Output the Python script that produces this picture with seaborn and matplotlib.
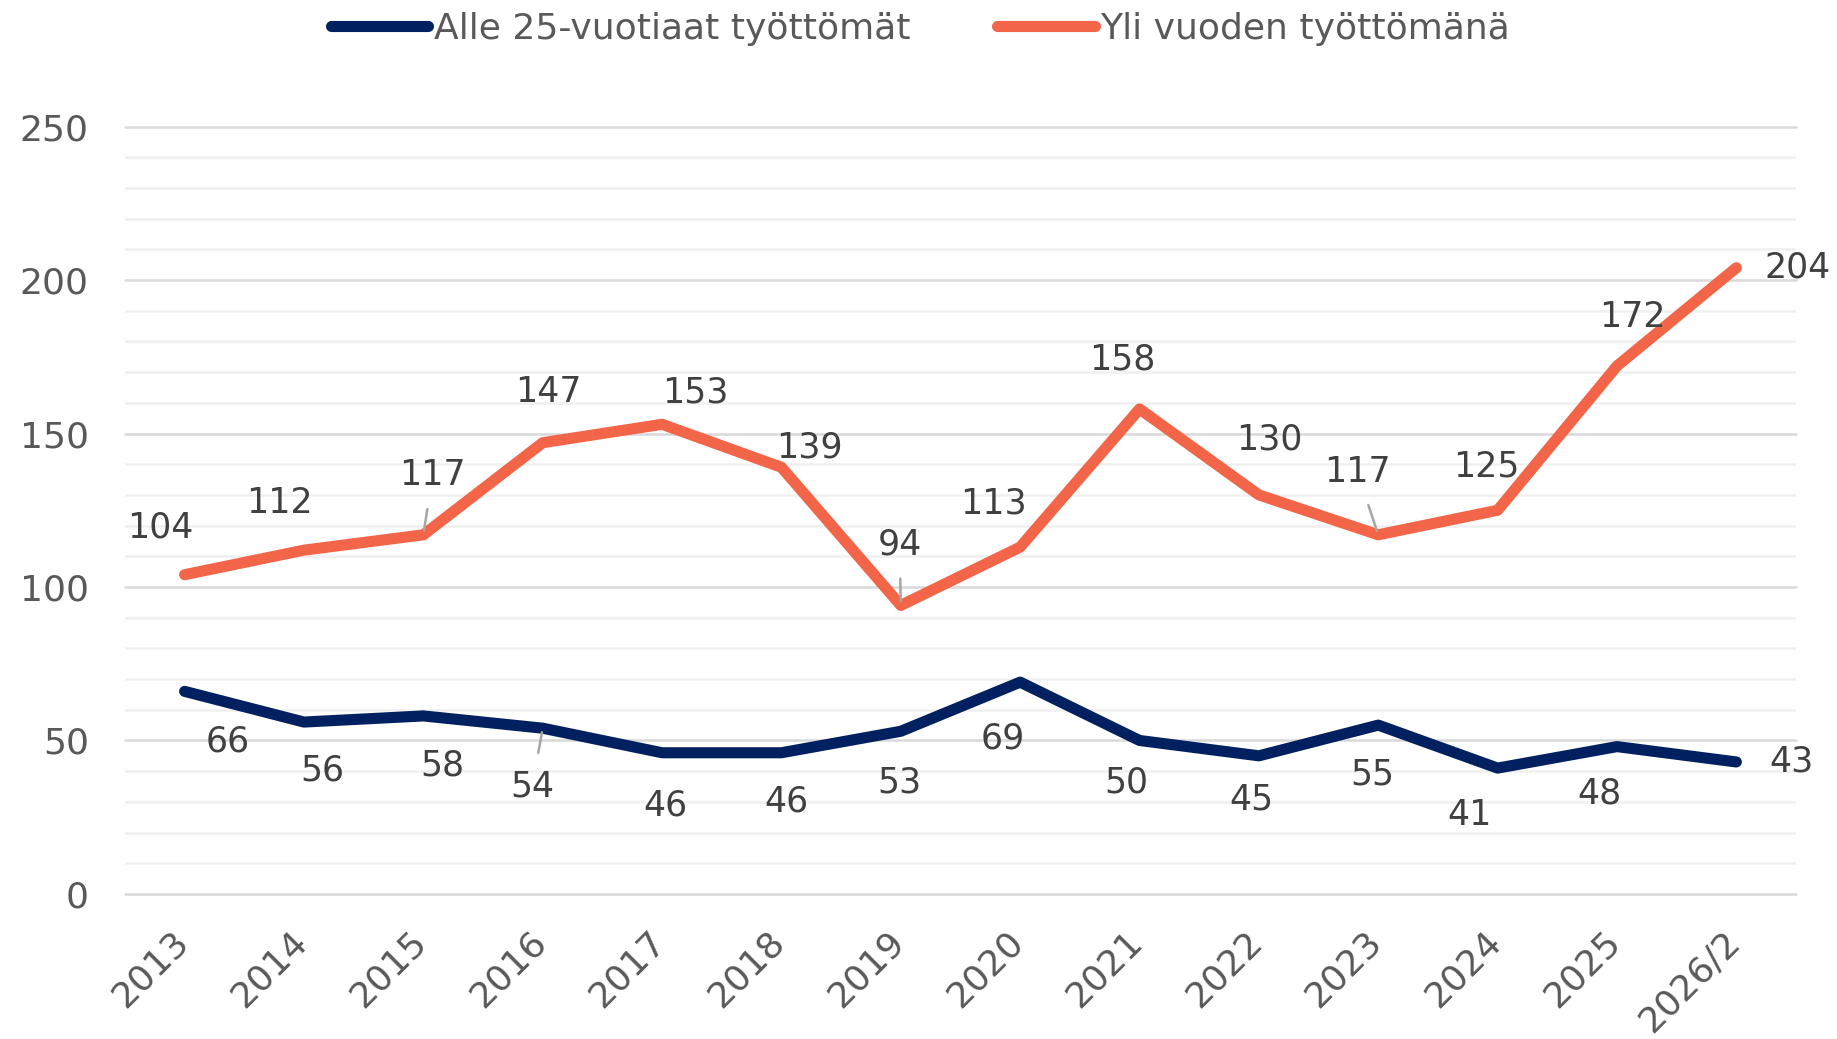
import matplotlib
matplotlib.use("Agg")
import matplotlib.pyplot as plt
import matplotlib.transforms as mtransforms
from matplotlib.lines import Line2D
from matplotlib.ticker import MultipleLocator
import numpy as np
import pandas as pd
import seaborn as sns

# ---- data ----
years = ["2013", "2014", "2015", "2016", "2017", "2018", "2019", "2020",
         "2021", "2022", "2023", "2024", "2025", "2026/2"]
alle25 = [66, 56, 58, 54, 46, 46, 53, 69, 50, 45, 55, 41, 48, 43]
yli_vuoden = [104, 112, 117, 147, 153, 139, 94, 113, 158, 130, 117, 125, 172, 204]
series_names = ["Alle 25-vuotiaat työttömät", "Yli vuoden työttömänä"]

# ---- style (label offsets in points) ----
navy = "#002060"
orange = "#F26549"
k = 0.8435
alle_off = [(37, -43), (16, -41), (16, -42), (-9, -50), (3, -45), (4, -42), (-1, -44),
            (-15, -48), (-11, -36), (-6, -37), (-5, -42), (-24, -40), (-15, -40), (47, 0)]
yli_off = [(-21, 40), (-21, 40), (8, 51), (5, 43), (28, 27), (24, 17), (-1, 52),
           (-23, 37), (-15, 42), (9, 47), (-18, 54), (-10, 37), (13, 42), (52, 0)]
# labels that show a small leader line
alle_leader = [3]
yli_leader = [2, 6, 10]

sns.set_theme(style="white")
plt.rcParams["font.family"] = ["DejaVu Sans"]

fig = plt.figure(figsize=(18.37, 10.39), dpi=100)
ax = fig.add_axes([0.068, 0.1396, 0.9097, 0.7386])

df = pd.DataFrame({
    "Vuosi": years * 2,
    "Arvo": alle25 + yli_vuoden,
    "Sarja": [series_names[0]] * len(years) + [series_names[1]] * len(years),
})
sns.lineplot(data=df, x="Vuosi", y="Arvo", hue="Sarja", palette=[navy, orange],
             linewidth=8, sort=False, ax=ax, legend=False)

ax.set_xlim(-0.5, len(years) - 0.5)
ax.set_ylim(0, 250)
ax.yaxis.set_major_locator(MultipleLocator(50))
ax.yaxis.set_minor_locator(MultipleLocator(10))
ax.grid(which="major", axis="y", color="#d9d9d9", linewidth=1.8)
ax.grid(which="minor", axis="y", color="#f0f0f0", linewidth=1.8)
ax.grid(which="both", axis="x", visible=False)
for gl in ax.get_ygridlines():
    gl.set_clip_on(False)
ax.set_axisbelow(True)
for s in ax.spines.values():
    s.set_visible(False)
ax.set_xlabel("")
ax.set_ylabel("")

ax.tick_params(axis="y", which="both", length=0, pad=26, labelsize=26, labelcolor="#595959")
ax.tick_params(axis="x", which="both", length=0, pad=22, labelsize=26, labelcolor="#595959")
ax.set_xticks(range(len(years)))
ax.set_xticklabels(years, rotation=45, ha="right", va="top")
shift = mtransforms.ScaledTranslation(10 / 100, 0, fig.dpi_scale_trans)
for lab in ax.get_xticklabels():
    lab.set_transform(lab.get_transform() + shift)


def label_series(values, offsets, leaders):
    for i, v in enumerate(values):
        dx, dy = offsets[i]
        arrow = None
        if i in leaders:
            arrow = dict(arrowstyle="-", color="#a6a6a6", lw=1.8, shrinkA=10, shrinkB=3)
        ax.annotate(str(v), (i, v), xytext=(dx * k, dy * k), textcoords="offset points",
                    ha="center", va="center", fontsize=25, color="#404040",
                    arrowprops=arrow)


label_series(alle25, alle_off, alle_leader)
label_series(yli_vuoden, yli_off, yli_leader)

handles = [Line2D([], [], color=navy, linewidth=8),
           Line2D([], [], color=orange, linewidth=8)]
leg = fig.legend(handles, series_names, loc="center", bbox_to_anchor=(0.501, 0.972),
                 ncol=2, frameon=False, fontsize=26, handlelength=2.7,
                 handletextpad=0.15, columnspacing=2.4)
for t in leg.get_texts():
    t.set_color("#595959")

fig.savefig("out.png", dpi=100)
